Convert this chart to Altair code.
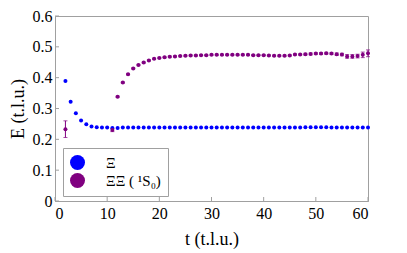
import altair as alt
import pandas as pd

# ---- data ----
t_blue = list(range(2, 61))
e_blue = [0.389, 0.322, 0.285, 0.261, 0.249, 0.242, 0.239, 0.238, 0.238,
          0.237, 0.237, 0.238, 0.238, 0.238, 0.238, 0.238, 0.238, 0.238, 0.238,
          0.238, 0.238, 0.238, 0.238, 0.238, 0.238, 0.238, 0.238, 0.238, 0.238,
          0.238, 0.238, 0.238, 0.238, 0.238, 0.238, 0.238, 0.238, 0.238, 0.238,
          0.238, 0.238, 0.238, 0.238, 0.238, 0.238, 0.238, 0.239, 0.239, 0.239,
          0.239, 0.239, 0.238, 0.238, 0.238, 0.238, 0.238, 0.238, 0.238, 0.238]

t_purple = [2, 11] + list(range(12, 61))
e_purple = [0.233, 0.230,
            0.338, 0.384, 0.411, 0.430, 0.441, 0.449, 0.456, 0.461, 0.464,
            0.466, 0.468, 0.469, 0.470, 0.471, 0.472, 0.472, 0.473, 0.473,
            0.474, 0.474, 0.474, 0.474, 0.474, 0.474, 0.474, 0.474, 0.473,
            0.473, 0.473, 0.472, 0.471, 0.471, 0.471, 0.472, 0.475, 0.475,
            0.476, 0.477, 0.478, 0.478, 0.479, 0.478, 0.476, 0.475, 0.469,
            0.469, 0.470, 0.474, 0.479]
err_purple = [0.027, 0.005,
              0.002, 0.002, 0.002, 0.002, 0.002, 0.002, 0.002, 0.002, 0.002,
              0.002, 0.002, 0.002, 0.002, 0.002, 0.002, 0.002, 0.002, 0.002,
              0.002, 0.002, 0.002, 0.002, 0.002, 0.002, 0.002, 0.002, 0.002,
              0.002, 0.002, 0.002, 0.002, 0.002, 0.002, 0.002, 0.002, 0.002,
              0.003, 0.003, 0.003, 0.003, 0.003, 0.003, 0.004, 0.004, 0.006,
              0.006, 0.006, 0.009, 0.011]

series_names = ["Ξ", "ΞΞ ( ¹S₀)"]
series_colors = ["#0000ff", "#800080"]
x_ticks = [0, 10, 20, 30, 40, 50, 60]
y_ticks = [0, 0.1, 0.2, 0.3, 0.4, 0.5, 0.6]

blue = pd.DataFrame({"t": t_blue, "E": e_blue, "s": series_names[0]})
purple = pd.DataFrame({"t": t_purple, "E": e_purple, "err": err_purple,
                       "s": series_names[1]})
purple["lo"] = purple["E"] - purple["err"]
purple["hi"] = purple["E"] + purple["err"]
points = pd.concat([blue, purple[["t", "E", "s"]]], ignore_index=True)

FONT = "Times New Roman"
GRAY = "#a0a0a0"
H = 185

xs = alt.Scale(domain=[0, 60], nice=False)
ys = alt.Scale(domain=[0, 0.6], nice=False)

x_axis = alt.Axis(values=x_ticks, title="t (t.l.u.)", titleY=43,
                  titleBaseline="alphabetic", labelPadding=4, grid=False,
                  labelOverlap=False, labelFont=FONT, titleFont=FONT,
                  labelFontSize=16, titleFontSize=18, titleFontWeight="normal")
y_axis = alt.Axis(values=y_ticks, title="E (t.l.u.)", titleX=-32,
                  titleBaseline="alphabetic", labelPadding=3, grid=False,
                  labelOverlap=False, labelFont=FONT, titleFont=FONT,
                  labelFontSize=16, titleFontSize=18, titleFontWeight="normal",
                  labelExpr="datum.value == 0 ? '0' : format(datum.value, '.1f')")

def X(f):
    return alt.X(f, scale=xs, axis=x_axis)

def Y(f):
    return alt.Y(f, scale=ys, axis=y_axis)

err_rules = alt.Chart(purple).mark_rule(color="#800080", strokeWidth=1).encode(
    x=X("t:Q"), y=Y("lo:Q"), y2="hi:Q")
caps_lo = alt.Chart(purple).mark_tick(color="#800080", orient="horizontal",
                                      size=4, thickness=1).encode(
    x=X("t:Q"), y=Y("lo:Q"))
caps_hi = alt.Chart(purple).mark_tick(color="#800080", orient="horizontal",
                                      size=4, thickness=1).encode(
    x=X("t:Q"), y=Y("hi:Q"))

dots = alt.Chart(points).mark_circle(size=16, opacity=1).encode(
    x=X("t:Q"), y=Y("E:Q"),
    color=alt.Color("s:N", scale=alt.Scale(domain=series_names, range=series_colors),
                    legend=alt.Legend(title=None, orient="none", legendX=8, legendY=132,
                                      strokeColor=GRAY, fillColor="white", padding=7,
                                      symbolType="circle", symbolSize=225,
                                      symbolStrokeWidth=0,
                                      labelFont=FONT, labelFontSize=15,
                                      labelColor="black", labelOffset=21,
                                      rowPadding=2)),
)

xt = alt.Chart(pd.DataFrame({"v": x_ticks})).mark_rule(color=GRAY).encode(
    x=X("v:Q"), y=alt.value(H), y2=alt.value(H - 4))
yt = alt.Chart(pd.DataFrame({"v": y_ticks})).mark_rule(color=GRAY).encode(
    y=Y("v:Q"), x=alt.value(0), x2=alt.value(4))

chart = alt.layer(err_rules, caps_lo, caps_hi, xt, yt, dots).properties(
    width=313, height=H,
    autosize=alt.AutoSizeParams(type="none"),
    padding={"left": 47, "top": 8, "right": 31, "bottom": 52},
).configure_view(stroke=GRAY, strokeWidth=1).configure_axis(
    domainColor=GRAY, tickSize=0, labelColor="black", titleColor="black",
)

chart.save("out.html", embed_options={"renderer": "svg", "actions": False})
